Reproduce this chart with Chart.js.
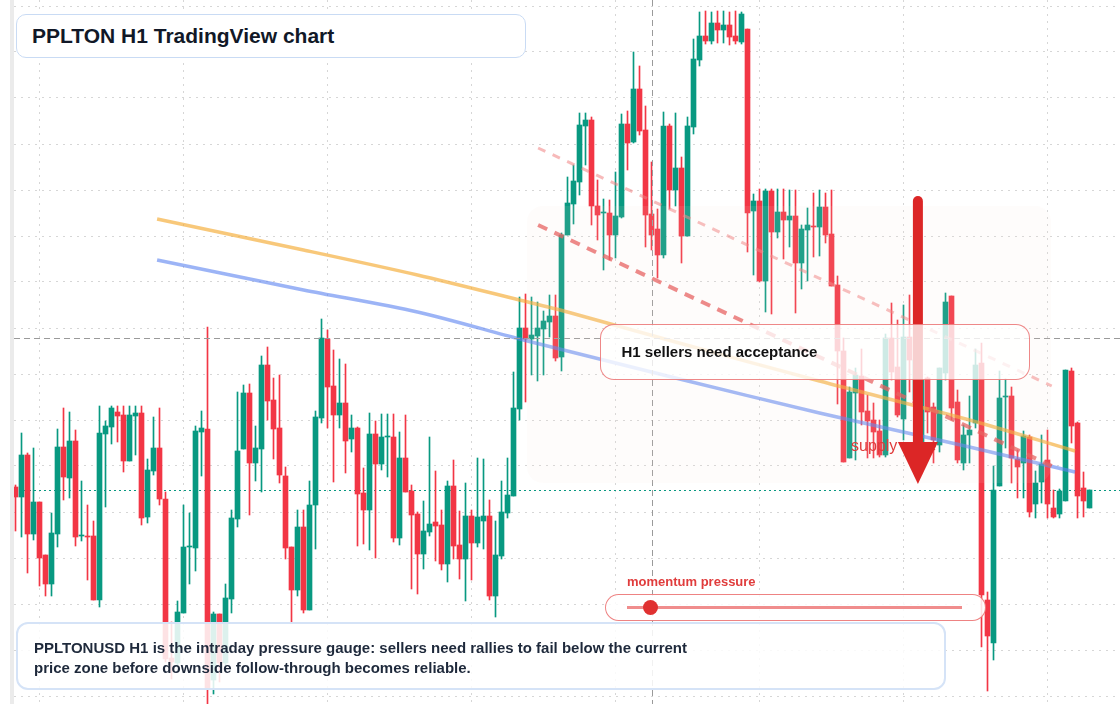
<!DOCTYPE html>
<html>
<head>
<meta charset="utf-8">
<title>PPLTON H1 TradingView chart</title>
<script src="https://cdn.jsdelivr.net/npm/chart.js@4.4.1/dist/chart.umd.min.js"></script>
<style>
  body { margin: 0; background: #fff; font-family: "Liberation Sans", Arial, Helvetica, sans-serif; }
  #wrap { position: relative; width: 1120px; height: 704px; overflow: hidden; }
  #chart { position: absolute; left: 0; top: 0; }
  .strip { position: absolute; left: 10px; top: 0; width: 4px; height: 704px; background: #ebebeb; }
  .box { position: absolute; box-sizing: border-box; }
  #title { left: 16px; top: 14px; width: 510px; height: 44px; border: 1.5px solid #c9dbf4; border-radius: 10px;
           background: #fff; font-weight: bold; font-size: 21px; color: #111827; padding-left: 15px; line-height: 41px; }
  #note { left: 16px; top: 622px; width: 930px; height: 68px; border: 2px solid #d5e3f7; border-radius: 12px;
          background: rgba(255,255,255,0.86); font-weight: bold; font-size: 15px; color: #1e293b;
          padding: 14px 0 0 16px; line-height: 20px; }
  #callout { left: 600px; top: 324px; width: 430px; height: 56px; border: 1.5px solid rgba(232,96,96,0.75); border-radius: 14px;
             background: rgba(255,255,255,0.78); font-weight: bold; font-size: 15px; color: #111;
             padding-left: 20.5px; line-height: 53px; }
  #momLabel { left: 627px; top: 574px; font-weight: bold; font-size: 13px; color: #e03c3c; line-height: 16px; }
  #pill { left: 605px; top: 594px; width: 381px; height: 27px; border: 1.5px solid rgba(232,90,90,0.75); border-radius: 14px;
          background: rgba(255,255,255,0.85); }
  #track { left: 627px; top: 605.5px; width: 335px; height: 3px; background: rgba(232,80,80,0.65); }
  #dot { left: 642.5px; top: 599.5px; width: 15px; height: 15px; border-radius: 50%; background: #e03131; }
</style>
</head>
<body>
<div id="wrap">
  <canvas id="chart" width="1120" height="704"></canvas>
  <div class="strip"></div>
  <div class="box" id="title">PPLTON H1 TradingView chart</div>
  <div class="box" id="callout">H1 sellers need acceptance</div>
  <div class="box" id="momLabel">momentum pressure</div>
  <div class="box" id="pill"></div>
  <div class="box" id="track"></div>
  <div class="box" id="dot"></div>
  <div class="box" id="note">PPLTONUSD H1 is the intraday pressure gauge: sellers need rallies to fail below the current<br>price zone before downside follow-through becomes reliable.</div>
</div>
<script>
// hourly candles, one per bar index (price in chart units)
const open = [217,207,249,170,202,149,120,170,257,226, 263,168,168,168,104,270,277,292,289,243,
  288,291,187,233,256,205,46,41,91,157, 156,272,275,24,90,41,105,185,255,311,
  241,255,339,304,276,228,157,114,177,94, 199,286,365,318,289,301,265,276,211,194,
  270,240,267,267,166,246,213,190,150,172, 182,179,140,218,159,145,188,161,183,188,
  108,148,191,208,295,376,365,368,375,382, 388,347,469,500,522,578,584,498,491,491,
  469,487,580,562,615,574,490,475,449,578, 514,536,468,577,644,668,663,681,674,679,
  668,662,675,493,503,423,513,472,492,484, 488,441,474,478,477,497,470,419,353,246,
  311,328,293,284,273,249,366,337,285,367, 304,261,326,297,259,331,408,302,241,269,
  281,341,104,61,218,307,308,245,241,267, 200,222,244,196,190,203,333,281,216,196];
const high = [219,271,251,256,202,149,191,275,296,292, 274,223,199,183,298,283,298,298,298,298,
  298,298,245,287,296,212,82,103,199,191, 278,293,377,92,90,120,194,312,319,320,
  278,348,357,326,329,237,157,194,194,223, 293,385,374,354,345,340,289,277,236,291,
  283,290,290,290,272,289,219,192,203,267, 233,194,223,244,193,221,194,246,245,204,
  183,223,246,332,407,410,407,402,393,409, 409,471,527,539,591,591,587,524,505,504,
  532,590,593,652,638,598,542,495,592,580, 591,547,587,665,692,693,692,693,693,692,
  693,692,675,510,515,515,515,515,515,514, 514,479,496,511,514,511,514,428,366,317,
  336,355,309,301,284,370,401,384,399,409, 359,329,327,301,336,411,408,314,279,308,
  355,361,112,238,333,325,317,254,273,269, 233,269,274,214,215,334,336,282,232,214];
const low = [173,167,131,164,118,108,108,157,204,206, 158,163,124,104,97,197,260,262,232,243,
  249,179,181,229,199,42,25,39,91,120, 133,228,0,10,22,38,91,177,255,189,
  223,212,284,245,221,145,81,108,91,94, 155,281,276,222,276,231,252,158,160,154,
  146,234,227,162,159,212,115,110,135,168, 143,134,122,145,125,103,124,157,155,104,
  87,145,186,208,284,302,329,323,329,367, 343,333,469,480,509,539,479,464,434,444,
  446,486,534,561,569,457,454,426,446,495, 498,441,468,570,638,660,660,661,661,659,
  660,660,452,429,422,392,390,466,445,457, 391,415,423,447,448,461,418,300,242,246,
  244,279,246,246,247,247,324,287,264,312, 274,254,271,241,252,324,284,241,234,241,
  276,57,13,44,218,256,221,206,206,187, 186,201,186,186,186,203,261,186,187,196];
const close = [207,249,170,202,146,120,171,257,227,263, 167,168,167,104,271,278,296,288,243,289,
  291,186,234,256,205,45,42,92,157,157, 273,276,16,90,41,106,186,253,311,241,
  256,339,303,275,229,156,114,177,94,199, 287,366,317,289,301,263,276,210,194,270,
  240,267,267,166,246,212,189,150,173,180, 178,140,218,158,145,188,161,187,188,108,
  149,192,209,296,376,365,369,376,383,388, 346,469,501,523,579,584,498,489,491,469,
  488,580,561,615,573,489,469,449,578,514, 536,468,578,645,668,663,681,674,679,667,
  663,690,491,503,423,513,472,492,484,488, 441,475,479,477,497,469,418,353,242,312,
  329,292,283,272,249,366,332,289,367,344, 344,324,292,264,336,402,296,244,269,274,
  339,109,68,214,306,307,246,237,268,192, 221,240,200,187,213,334,278,208,203,214];

// moving averages, read at a few bar positions
const maX = [23.6, 48, 67, 84, 92, 110, 134, 159, 176.6];
const maFast = [485, 454, 429, 404, 392, 362, 323, 284, 253];
const maSlow = [444, 414, 392, 365, 353, 326, 291, 257, 232];

// red dashed channel
const channelX = [87.1, 172.7];
const channelUpper = [556, 318];
const channelLower = [479, 238];

// grid positions
const dayStarts = [4, 28, 52, 76, 100, 124, 148, 172];
const priceGrid = [8, 54, 100, 146, 192, 238, 284, 330, 376, 422, 468, 514, 560, 606, 652, 698];

// markers
const lastPrice = 214;
const crossBar = 106, crossPrice = 366;
const zoneBars = [85.25, 172.6], zonePrices = [221, 498];
const arrowBar = 150.4, arrowFrom = 508, arrowBase = 262, arrowTip = 220;
const supplyBar = 139.25, supplyPrice = 253;

const UP = '#089981', DOWN = '#f23645';
const colors = open.map((o, i) => close[i] >= o ? UP : DOWN);

const overlay = {
  id: 'overlay',
  beforeDatasetsDraw(chart) {
    const { ctx, chartArea: a, scales: { y } } = chart;
    ctx.save();
    ctx.strokeStyle = UP;
    ctx.lineWidth = 1;
    ctx.setLineDash([2, 3]);
    const py = Math.round(y.getPixelForValue(lastPrice)) + 0.5;
    ctx.beginPath(); ctx.moveTo(a.left, py); ctx.lineTo(a.right, py); ctx.stroke();
    ctx.restore();
  },
  afterDatasetsDraw(chart) {
    const { ctx, chartArea: a, scales: { x, y } } = chart;
    ctx.save();
    // crosshair
    ctx.strokeStyle = '#9a9a9a';
    ctx.lineWidth = 1;
    ctx.setLineDash([6, 4]);
    const cy = Math.round(y.getPixelForValue(crossPrice)) + 0.5;
    const cx = Math.round(x.getPixelForValue(crossBar)) + 0.5;
    ctx.beginPath(); ctx.moveTo(a.left, cy); ctx.lineTo(a.right, cy); ctx.stroke();
    ctx.beginPath(); ctx.moveTo(cx, a.top); ctx.lineTo(cx, a.bottom); ctx.stroke();
    ctx.setLineDash([]);

    // supply zone shading
    const zx0 = x.getPixelForValue(zoneBars[0]), zx1 = x.getPixelForValue(zoneBars[1]);
    const zy0 = y.getPixelForValue(zonePrices[1]), zy1 = y.getPixelForValue(zonePrices[0]);
    ctx.fillStyle = 'rgba(248,228,215,0.1)';
    ctx.beginPath();
    ctx.roundRect(zx0, zy0, zx1 - zx0, zy1 - zy0, 16);
    ctx.fill();

    // label
    ctx.fillStyle = '#e03b3b';
    ctx.font = '16px "Liberation Sans", Arial, sans-serif';
    ctx.textBaseline = 'alphabetic';
    ctx.fillText('supply zone', x.getPixelForValue(supplyBar), y.getPixelForValue(supplyPrice));

    // arrow
    const ax = x.getPixelForValue(arrowBar);
    const yTop = y.getPixelForValue(arrowFrom), yBase = y.getPixelForValue(arrowBase), yTip = y.getPixelForValue(arrowTip);
    ctx.strokeStyle = '#dc2626';
    ctx.fillStyle = '#dc2626';
    ctx.lineWidth = 10;
    ctx.lineCap = 'round';
    ctx.beginPath(); ctx.moveTo(ax, yTop + 5); ctx.lineTo(ax, yBase + 4); ctx.stroke();
    ctx.beginPath();
    ctx.moveTo(ax - 20, yBase); ctx.lineTo(ax + 20, yBase); ctx.lineTo(ax, yTip);
    ctx.closePath(); ctx.fill();
    ctx.restore();
  }
};

const lineStyle = { type: 'line', pointRadius: 0, borderWidth: 3.5, fill: false, tension: 0.3 };

new Chart(document.getElementById('chart'), {
  type: 'bar',
  data: {
    datasets: [
      { ...lineStyle, label: 'MA fast', order: -1,
        data: maX.map((v, i) => ({ x: v, y: maFast[i] })), borderColor: 'rgba(245,170,50,0.65)' },
      { ...lineStyle, label: 'MA slow', order: -1,
        data: maX.map((v, i) => ({ x: v, y: maSlow[i] })), borderColor: 'rgba(90,130,240,0.6)' },
      { type: 'line', label: 'upper', order: -2, pointRadius: 0, borderWidth: 3, borderDash: [8, 8],
        data: channelX.map((v, i) => ({ x: v, y: channelUpper[i] })), borderColor: 'rgba(240,130,130,0.55)' },
      { type: 'line', label: 'lower', order: -2, pointRadius: 0, borderWidth: 4, borderDash: [10, 8],
        data: channelX.map((v, i) => ({ x: v, y: channelLower[i] })), borderColor: 'rgba(230,85,85,0.75)' },
      { label: 'body', order: 0, grouped: false, barThickness: 5, minBarLength: 1,
        data: open.map((o, i) => ({ x: i, y: [o, close[i]] })), backgroundColor: colors },
      { label: 'wick', order: 1, grouped: false, barThickness: 1,
        data: low.map((l, i) => ({ x: i, y: [l, high[i]] })), backgroundColor: colors }
    ]
  },
  options: {
    responsive: false,
    animation: false,
    events: [],
    layout: { padding: { left: 14, right: 0, top: 0, bottom: 0 } },
    plugins: { legend: { display: false }, tooltip: { enabled: false } },
    scales: {
      x: {
        type: 'linear', min: -0.25, max: 184.083, offset: false,
        ticks: { display: false },
        grid: { color: '#d6d6d6', drawTicks: false, offset: false },
        border: { display: false, dash: [2, 5] },
        afterBuildTicks: s => { s.ticks = dayStarts.map(v => ({ value: v })); }
      },
      y: {
        type: 'linear', min: 0, max: 704,
        ticks: { display: false },
        grid: { color: '#d6d6d6', drawTicks: false },
        border: { display: false, dash: [2, 5] },
        afterBuildTicks: s => { s.ticks = priceGrid.map(v => ({ value: v })); }
      }
    }
  },
  plugins: [overlay]
});
</script>
</body>
</html>
